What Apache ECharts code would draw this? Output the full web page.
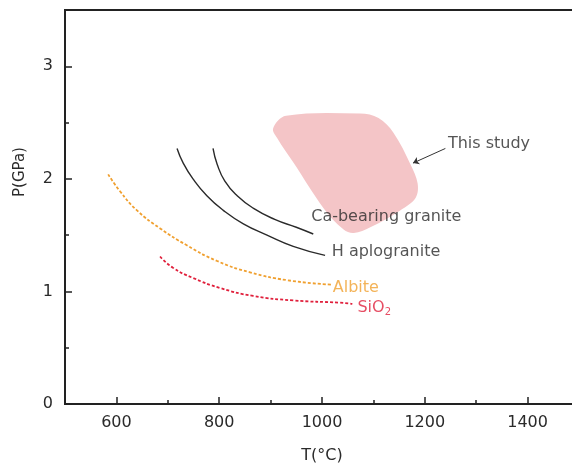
<!DOCTYPE html>
<html>
<head>
<meta charset="utf-8">
<script src="https://cdn.jsdelivr.net/npm/echarts@6/dist/echarts.min.js"></script>
<style>
html,body{margin:0;padding:0;background:#fff;overflow:hidden;}
#chart{width:579px;height:470px;}
</style>
</head>
<body>
<div id="chart"></div>
<script>
// tick labels
var xTicks = [600, 800, 1000, 1200, 1400];
var xMinorTicks = [700, 900, 1100, 1300];
var yTicks = [0, 1, 2, 3];
var yMinorTicks = [0.5, 1.5, 2.5];

// curves (T in °C, P in GPa)
var haploT = [718, 730, 749, 776, 808, 847, 893, 944, 1006];
var haploP = [2.27, 2.14, 2.00, 1.85, 1.72, 1.60, 1.50, 1.40, 1.32];
var caT = [788, 796, 811, 835, 866, 908, 950, 983];
var caP = [2.27, 2.13, 1.98, 1.85, 1.74, 1.64, 1.57, 1.51];
var albiteT = [584, 607, 640, 685, 737, 796, 860, 932, 1018];
var albiteP = [2.04, 1.89, 1.72, 1.56, 1.41, 1.27, 1.17, 1.10, 1.06];
var sio2T = [685, 710, 749, 802, 866, 944, 1035, 1059];
var sio2P = [1.31, 1.21, 1.12, 1.03, 0.96, 0.92, 0.90, 0.89];

// this study field outline
var regionT = [905, 930, 1074, 1110, 1139, 1172, 1186, 1182, 1152, 1094, 1062, 1042, 1003, 945, 913];
var regionP = [2.45, 2.56, 2.58, 2.54, 2.41, 2.13, 1.96, 1.83, 1.72, 1.57, 1.52, 1.55, 1.74, 2.14, 2.36];

// arrow for "This study"
var arrowT = [1240, 1177];
var arrowP = [2.27, 2.14];

// annotation texts
var noteText = ['This study', 'Ca-bearing granite', 'H aplogranite', 'Albite', 'SiO{sub|2}'];
var noteT = [1245, 979, 1019, 1021, 1069];
var noteP = [2.31, 1.66, 1.35, 1.03, 0.85];
var noteColor = ['#2a2a2a', '#2a2a2a', '#2a2a2a', '#f0a030', '#e0203c'];

function pairs(a, b) {
    return a.map(function (v, i) { return [v, b[i]]; });
}

var myChart = echarts.init(document.getElementById('chart'));
var font = 'DejaVu Sans';

var option = {
    animation: false,
    grid: {
        left: 65, top: 10, right: 0, bottom: 66,
        show: true, borderColor: '#222', borderWidth: 2
    },
    graphic: [{
        type: 'text',
        x: 20, y: 172,
        rotation: Math.PI / 2,
        style: {
            text: 'P(GPa)', font: '15px "DejaVu Sans"', fill: '#2a2a2a',
            align: 'center', verticalAlign: 'middle'
        }
    }],
    xAxis: [{
        type: 'value', min: 500, max: 1500,
        name: 'T(°C)', nameLocation: 'middle', nameGap: 44,
        nameTextStyle: { fontFamily: font, fontSize: 16, color: '#2a2a2a' },
        axisLine: { show: false },
        splitLine: { show: false },
        axisTick: { inside: true, length: 7, customValues: xTicks, lineStyle: { color: '#222', width: 1.5 } },
        axisLabel: {
            customValues: xTicks, margin: 11, fontFamily: font, fontSize: 16, color: '#2a2a2a',
            formatter: function (v) { return String(v); }
        }
    }, {
        type: 'value', min: 500, max: 1500, position: 'bottom',
        axisLine: { show: false }, splitLine: { show: false }, axisLabel: { show: false },
        axisTick: { inside: true, length: 4, customValues: xMinorTicks, lineStyle: { color: '#222', width: 1.5 } }
    }],
    yAxis: [{
        type: 'value', min: 0, max: 3.5,
        axisLine: { show: false },
        splitLine: { show: false },
        axisTick: { inside: true, length: 7, customValues: yTicks, lineStyle: { color: '#222', width: 1.5 } },
        axisLabel: { customValues: yTicks, margin: 12, fontFamily: font, fontSize: 16, color: '#2a2a2a' }
    }, {
        type: 'value', min: 0, max: 3.5, position: 'left',
        axisLine: { show: false }, splitLine: { show: false }, axisLabel: { show: false },
        axisTick: { inside: true, length: 4, customValues: yMinorTicks, lineStyle: { color: '#222', width: 1.5 } }
    }],
    series: [
        {
            type: 'custom',
            z: 1,
            data: pairs(regionT, regionP),
            renderItem: function (params, api) {
                if (params.dataIndex !== 0) return;
                var pts = regionT.map(function (t, i) { return api.coord([t, regionP[i]]); });
                return {
                    type: 'polygon',
                    shape: { points: pts, smooth: 0.35 },
                    style: { fill: '#f4c5c7' }
                };
            }
        },
        {
            type: 'line', smooth: 0.5, symbol: 'none', z: 3,
            data: pairs(haploT, haploP),
            lineStyle: { color: '#2a2a2a', width: 1.4 }
        },
        {
            type: 'line', smooth: 0.5, symbol: 'none', z: 3,
            data: pairs(caT, caP),
            lineStyle: { color: '#2a2a2a', width: 1.4 }
        },
        {
            type: 'line', smooth: 0.5, symbol: 'none', z: 3,
            data: pairs(albiteT, albiteP),
            lineStyle: { color: '#f0a030', width: 1.8, type: [3, 2] }
        },
        {
            type: 'line', smooth: 0.5, symbol: 'none', z: 3,
            data: pairs(sio2T, sio2P),
            lineStyle: { color: '#e0203c', width: 1.8, type: [3, 2] }
        },
        {
            type: 'lines', coordinateSystem: 'cartesian2d', z: 3,
            symbol: ['none', 'arrow'], symbolSize: 6,
            data: [{ coords: pairs(arrowT, arrowP) }],
            lineStyle: { color: '#333', width: 1, opacity: 1 }
        },
        {
            type: 'scatter', symbolSize: 0, z: 4,
            data: noteT.map(function (t, i) {
                return {
                    value: [t, noteP[i]],
                    label: { color: noteColor[i], formatter: noteText[i] }
                };
            }),
            label: {
                show: true, position: 'right', distance: 0,
                fontFamily: font, fontSize: 16,
                rich: {
                    sub: { fontSize: 10, padding: [9, 0, 0, 0], color: '#e0203c', fontFamily: font }
                }
            }
        }
    ]
};

myChart.setOption(option);
</script>
</body>
</html>
